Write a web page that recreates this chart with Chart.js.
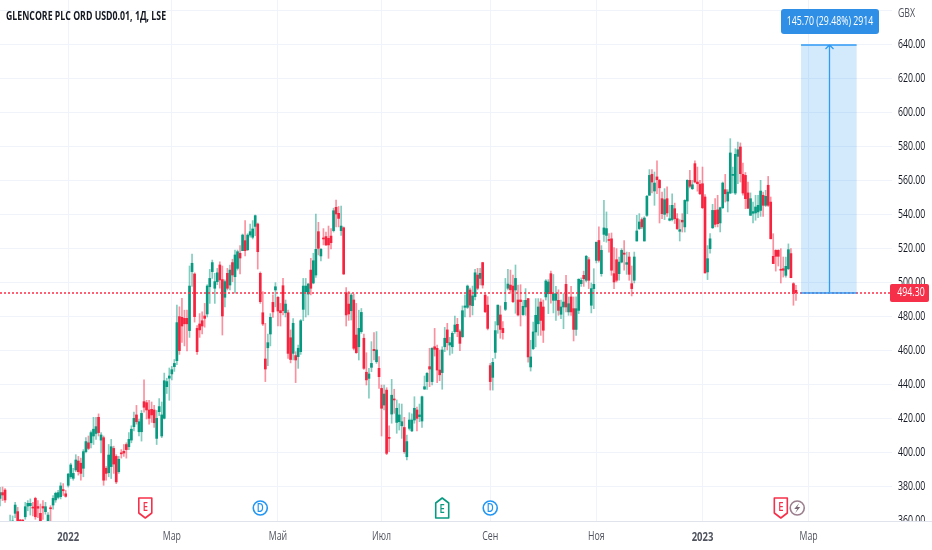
<!DOCTYPE html>
<html>
<head>
<meta charset="utf-8">
<style>
  html, body { margin: 0; padding: 0; background: #fff; }
  canvas { display: block; }
</style>
<script src="https://cdn.jsdelivr.net/npm/chart.js@4/dist/chart.umd.min.js"></script>
</head>
<body>
<canvas id="chart" width="932" height="550"></canvas>
<script>
// Daily candles, GBX
const opens = [
  373.3,376.7,378.2,358,357,358,364.5,365.5,360,360.5,
  362.5,368.8,369,368,373.3,368.5,364.5,368.5,365.5,359.6,
  367.8,369.4,372.4,373.9,374.3,378.5,376,381,386,385.1,
  390,395.3,394,391,400.8,406,406,410,411.5,421,
  407.6,409,391,388.4,392,402.7,398,389,400,401,
  405,403.7,407.6,415.5,422.4,412.5,412.5,430.2,429.6,425.3,
  425.7,425.3,408.6,424.3,410,420.4,439,444,446.5,450.8,
  454.3,480.2,479.8,479.2,479.2,472,506.7,505.3,473.3,475.9,
  477.8,480.6,481.8,497.8,506.7,496.9,500.8,510.6,502,491.6,
  505.7,498.8,512,503.7,508.6,517.5,519,524.9,519.6,528.2,
  526.9,533.3,534.7,505.7,482.5,455.3,461.9,470,488.6,495.9,
  491.6,483.7,498.4,482.5,482.5,467.8,458.6,457.3,456.7,459.6,
  484.5,494.9,493.5,507.6,500,504.7,530.2,515.9,526.3,527.3,
  526.3,527.6,530.8,544.5,541,530.8,532.5,494.3,487.6,483.7,
  490,469.4,462.5,471.4,467.5,447.5,443.9,450.4,461,453.7,
  449.8,438,428.2,437,409.2,422.9,431.6,418,418.4,416,
  415,397.8,414.5,413,419.4,425.3,421.4,418.8,437.6,442,
  450.8,442,462.5,461.6,448.8,447.3,462.5,472.4,463.5,462.5,
  471.4,475.7,471.4,468.4,485.7,485.7,495.9,486.7,492,504.7,
  502.7,512,492.9,487,451.4,444.5,459.2,475.3,481.2,473.3,
  484.5,496.9,498.8,498.2,495.9,490,490,481.4,485.9,490.8,
  450.6,461.4,471.2,476,488.8,485.9,491.8,493.7,505.5,489.8,
  489.8,489.8,481.6,485.9,499.2,483,491.8,484.9,472.7,483.9,
  499.6,504.5,501.6,513.7,486.9,496.7,513.3,525,505.5,528.6,
  528,525.5,526,505.5,513.7,505.5,512.3,517.6,511,515.3,
  499.6,501.6,524.7,532,537.3,524.7,539.8,551.6,563.9,554.1,
  562.4,560.4,549.6,540.4,549.6,536.9,537.3,543.7,537.8,530.4,
  536.9,533,548.2,560.4,555.5,570.2,559.4,558,558.4,550.6,
  506.5,520.2,532.5,542.7,543,535.3,544.3,554.9,548.2,552.9,
  563.3,552.9,574.5,580,563.9,563.3,553,539.8,541,541.2,
  541.8,542.7,551.6,545.7,557.5,547.6,515.7,519.2,519.2,508,
  508.4,504.5,508.4,517.3,499.6,495.7
];
const highs = [
  379.8,380,379,359,363.5,363,371,368,361,361,
  371,372,373,371,374,372,370,372,371,365,
  369,375,377,378,382.5,382,378,388,394,391,
  399,398,397,402,409,410,413,421,421,423,
  412,410,392,405,408,404,399,398,402,405,
  406,412,416,424,428,420,425,443,431,431,
  430,428,425,432,430,447,444,450,451,455,
  487,486,491,484,484,510,517,506,475,482,
  483,488,499,508,513.5,505.7,508.6,512.5,510,501.8,
  508.6,510.6,514,519.4,519.4,522,528.8,536.7,529,534.7,
  536.7,540,535.3,506.5,494.9,476.3,470,482,493,500.2,
  492,488,502.7,490,484,472.4,479,459.6,463.5,478.5,
  502.7,502.7,499.8,514.5,517.5,540.6,535.7,520.4,532,530,
  533.5,532,544,548.8,545,545.3,533,497.3,495,494,
  493.5,488,484,485,470,459,449.8,465.5,470.8,471.4,
  456.7,440,440,438.4,416,443.3,437.5,431.2,429,428.8,
  421,410.6,423.7,423,433.1,427,428.8,433.5,445.3,447.3,
  461.6,462,473.3,463.5,460.6,462.5,473.9,476.3,468,471.4,
  480.6,479.2,472.4,486.5,493,498.8,497,498.2,508,508.6,
  508.6,512.2,493.5,492,452.7,455.7,477.3,487,486.5,477.3,
  502.7,508,507.6,504.7,510.6,498.8,499,489.8,496.7,491,
  466.3,477,490.8,490.8,490.8,490,502,502,507,505,
  498,496,490,493.7,504.5,491.8,498,491.8,491.8,502.5,
  503,507,516.3,515,500,508.4,524,533,522,548.6,
  541.8,529,529.4,520.8,520.2,515.3,520.2,525,518.2,518,
  510,518.2,539.8,540.8,538.4,539,551.6,566.7,566.7,565.3,
  571.8,561,553.5,555.5,556.5,545.7,552.5,547,540.8,537.3,
  540.8,549,560.8,566.3,560.4,571.8,568.2,560.4,568.2,552,
  522,529,546.3,549.6,551.6,544.7,559.4,563.9,554.9,584.9,
  568.2,579,582.9,582.4,570.6,565,559.4,553,547.6,551.6,
  551.6,560.4,553.5,554.5,562.7,550.6,529,519.6,519.6,520.2,
  515.3,515.3,523,520.2,500.2,498.6
];
const lows = [
  368.8,372,371,352,356,356,362,358,357,357,
  361,366,363.5,363,361,362,358,361,364,358,
  360,367,371,373,373,375,374,380,385,384,
  389,387,384,386,400,402,403,405,408,410,
  400,381,384,386,385,388,382,388,397,398,
  397,402,406,413,417,410,407,424,420,417,
  418,415,405,422,409,420,435,431,443,448,
  452,458,465,463,460,468,498,477,458,468,
  470,474,480,488,502.7,488,499,496.9,469.4,485.9,
  495.9,495.9,500.8,494,507.6,505.3,519,516,519,526.9,
  525.9,527.8,508.2,488,475,442,451.4,463,479.8,486,
  474.7,474.7,481.2,480,455.7,453,454.7,441.4,449.8,458,
  477.8,480,481.2,493,499.5,503.3,516.5,513,522.4,522,
  514.5,520,530,533,533,528,505,474.7,478,478.2,
  460.6,458.6,454.7,470.4,449.2,440,432.2,447.8,454.7,452.7,
  438,410,425.3,399,400.8,417.5,423.3,411.6,413.5,408.6,
  399.8,395.9,413.5,412.5,417.5,413,418.4,415,437.4,437.4,
  439,440,457,441.4,442.5,437.5,459.6,460.6,457.6,458.6,
  470.4,468.4,460.2,468,480,485,480,481.2,490,496,
  498.8,497,482.5,472.4,437,437,455.7,470.4,467.5,467,
  483.7,495.9,493.9,488.4,482.2,480.6,474.7,481,481,453.5,
  448.2,460.8,462.4,469.2,469.2,465,490,482,488.2,482.4,
  478,481,479,473.1,483,481,481,465.9,469.2,482,
  498,498,500.6,496.7,482.4,484.9,511.8,512.3,504,524.5,
  524,518.2,504.5,496.7,500.6,501.6,511.8,507.5,505.1,501.6,
  492.4,500,524.7,531.4,532,524.7,539.2,551.6,553,545.7,
  552.5,535.3,537.8,537.3,539.2,536.5,536.5,535,531.4,524.7,
  530,530,540.8,556,554.9,558.8,554,552,543.7,505.9,
  502,517.6,532,533,533,530,543.7,547.6,541.8,552.5,
  553,552,558.4,559.4,551.6,543.7,543.7,539.8,535.3,536.9,
  538.4,539.2,539.2,545,545,526,511.4,507,510,500,
  503.5,503.5,507.8,503.1,486.9,489.8
];
const closes = [
  376.7,375.3,372.4,355,359,360,369.4,360,359.5,359.7,
  368.4,370.4,370.4,367.6,362.5,367.5,359.6,367.6,368.4,363.5,
  367.2,373.3,376.3,376.7,380.6,377.8,374.5,387.6,393,388,
  395.9,389,388,400.8,406.7,402.7,412,414,415.5,412,
  410.6,384,388,398.8,403.7,393.5,383,396.3,399.5,400,
  402,408,414,420.4,418.4,418.4,423.3,426.9,425.3,420.4,
  422.4,417.8,420.4,427.3,422.4,442.5,442,445.3,449,452.7,
  476.7,460.2,474.7,476,476,498.2,511.6,480.2,459.6,472.4,
  474.7,479.2,498.2,502.7,512,500.8,506,501.8,480.6,500.8,
  496.9,507.6,504.7,516.5,518.4,514.7,528.2,519,528.2,530.2,
  531.8,539.6,518.4,489,475.9,449.4,464.9,479.8,483,497.8,
  483.5,482.5,483.7,487.6,458.6,455,476.3,454.7,461.6,477.8,
  498.2,498.2,499.4,496.9,513.1,519.8,520.4,519.8,525.9,522.4,
  522.4,523.7,542.5,540.6,538,533.5,505.3,481.2,481.8,492.9,
  461.6,459,473.3,482.7,449.8,443,446.5,452.7,460.2,460.6,
  444.9,426.3,434.7,399.8,408.6,434,431.2,426.3,422.4,418.4,
  400.8,406.7,419.4,419.4,426.3,420.4,422.4,433.1,439,446.9,
  449.4,461.6,461,448.8,446,460.6,467.5,464.9,464.9,470.4,
  475.3,471.4,464.5,483.7,486.5,498.2,487,492.4,506,496.9,
  505.7,498.8,483.1,473.3,442,453.3,472,487,472.7,470.8,
  488.6,499.4,496,489,502.7,481.2,489,486.3,489.8,456.5,
  456.5,471.2,481,485.9,478,472.2,501.2,500.6,493.7,493.7,
  493.7,483.9,485.9,488.8,485.9,487.8,483,472.7,484.9,502.2,
  501.6,502.5,515.7,501.6,496.7,499.2,524,513.3,519.2,532.4,
  532,525,507.5,500.6,501.6,512.3,519.2,516.9,512,505.1,
  496.7,515.3,530.6,535.9,533,538.2,551,563.3,559.4,558.8,
  560.8,556,540.8,549,541.2,537.8,545.7,537.8,532,531.4,
  535.9,548.6,560.4,556.9,557.8,559.4,558.4,552.5,544.3,505.9,
  514.3,526,542.7,534.5,534.9,544.3,558.8,552.5,553.5,576.5,
  563.9,575.7,578.4,564.3,552.9,549.6,544,549.6,542,544.7,
  545.7,554.1,545.7,551,545.7,526,511.4,515.7,515.7,507.5,
  507.5,509.8,519.6,503.1,493.7,494.3
];

const slotCount = 354; // includes the empty space right of the last candle
const xTickSlots = [27, 68, 110, 151, 194, 236, 278, 320];
const xTickLabels = ['2022', 'Мар', 'Май', 'Июл', 'Сен', 'Ноя', '2023', 'Мар'];
const yTicks = [360, 380, 400, 420, 440, 460, 480, 500, 520, 540, 560, 580, 600, 620, 640, 660];

const lastPrice = 494.30;
const targetPrice = 640.00;
const toolStartSlot = 317;
const toolEndSlot = 339;
const toolLabel = '145.70 (29.48%) 2914';

const eventSlots = [57.5, 103, 175, 194, 309, 315.5];
const eventKinds = ['E-red', 'D', 'E-green', 'D', 'E-red', 'split'];

const titleText = 'GLENCORE PLC ORD USD0.01, 1Д, LSE';
const unitText = 'GBX';

const UP = '#089981';
const DOWN = '#f7243f';
const UP_WICK = 'rgba(8,153,129,.5)';
const DOWN_WICK = 'rgba(247,36,63,.5)';
const BLUE = '#2196f3';
const FONT = '"Open Sans", sans-serif';
const TEXT_SQUEEZE = 0.73; // the source picture is horizontally squeezed

const canvas = document.getElementById('chart');
const context = canvas.getContext('2d');

// every label on this canvas gets the narrow look of the reference
const plainFillText = context.fillText.bind(context);
context.fillText = (text, x, y) => {
  context.save();
  context.translate(x, y);
  context.scale(TEXT_SQUEEZE, 1);
  plainFillText(text, 0, 0);
  context.restore();
};

const isUp = i => closes[i] >= opens[i];

function roundRect(ctx, x, y, w, h, r) {
  ctx.beginPath();
  ctx.roundRect(x, y, w, h, r);
}

function drawEvent(ctx, x, kind) {
  const top = 498, bottom = 518, mid = 508;
  ctx.save();
  ctx.lineWidth = 1.6;
  ctx.fillStyle = '#fff';
  ctx.textAlign = 'center';
  ctx.textBaseline = 'middle';
  ctx.font = '600 13px ' + FONT;
  if (kind === 'D' || kind === 'split') {
    ctx.strokeStyle = kind === 'D' ? BLUE : '#9b7f8e';
    ctx.beginPath();
    ctx.arc(x, mid, 7, 0, Math.PI * 2);
    ctx.fill();
    ctx.stroke();
    if (kind === 'D') {
      ctx.fillStyle = BLUE;
      ctx.fillText('D', x, mid + 0.5);
    } else {
      ctx.fillStyle = '#7d6a78';
      ctx.beginPath();
      ctx.moveTo(x + 2, mid - 5);
      ctx.lineTo(x - 3, mid + 1);
      ctx.lineTo(x, mid + 1);
      ctx.lineTo(x - 2, mid + 5);
      ctx.lineTo(x + 3, mid - 1);
      ctx.lineTo(x, mid - 1);
      ctx.closePath();
      ctx.fill();
    }
  } else {
    const red = kind === 'E-red';
    const color = red ? '#f7304a' : UP;
    ctx.strokeStyle = color;
    ctx.lineJoin = 'round';
    ctx.beginPath();
    if (red) {
      ctx.moveTo(x - 6.5, top);
      ctx.lineTo(x + 6.5, top);
      ctx.lineTo(x + 6.5, bottom - 5);
      ctx.lineTo(x, bottom);
      ctx.lineTo(x - 6.5, bottom - 5);
    } else {
      ctx.moveTo(x, top);
      ctx.lineTo(x + 6.5, top + 5);
      ctx.lineTo(x + 6.5, bottom);
      ctx.lineTo(x - 6.5, bottom);
      ctx.lineTo(x - 6.5, top + 5);
    }
    ctx.closePath();
    ctx.fill();
    ctx.stroke();
    ctx.fillStyle = color;
    ctx.fillText('E', x, red ? mid - 1 : mid + 1);
  }
  ctx.restore();
}

// Price line, measuring tool, event badges and the header text
const overlay = {
  id: 'overlay',
  afterDatasetsDraw(chart) {
    const { ctx, scales: { y } } = chart;
    // on a whole pixel so the thin line spreads over two rows and stays soft
    const py = Math.round(y.getPixelForValue(lastPrice));
    ctx.save();
    ctx.strokeStyle = '#ff2d46';
    ctx.lineWidth = 1.4;
    ctx.setLineDash([2, 2]);
    ctx.beginPath();
    ctx.moveTo(0, py);
    ctx.lineTo(890, py);
    ctx.stroke();
    ctx.restore();
  },
  afterDraw(chart) {
    const { ctx, scales: { x, y } } = chart;
    const left = x.getPixelForValue(toolStartSlot);
    const right = x.getPixelForValue(toolEndSlot);
    const topY = Math.round(y.getPixelForValue(targetPrice));
    const baseY = Math.round(y.getPixelForValue(lastPrice));
    const midX = Math.round((left + right) / 2) + 0.5;

    ctx.save();
    // hide the lower half of the last tick label under the time axis
    ctx.fillStyle = '#fff';
    ctx.fillRect(892, 521, 40, 29);
    ctx.fillStyle = '#e0e3eb';
    ctx.fillRect(0, 521, 932, 1);

    ctx.fillStyle = 'rgba(33,150,243,.2)';
    ctx.fillRect(left, topY, right - left, baseY - topY);
    ctx.strokeStyle = '#2f9bf5';
    ctx.lineWidth = 1.3;
    ctx.beginPath();
    ctx.moveTo(left, topY); ctx.lineTo(right, topY);
    ctx.moveTo(left, baseY); ctx.lineTo(right, baseY);
    ctx.moveTo(midX, baseY); ctx.lineTo(midX, topY);
    ctx.moveTo(midX - 4, topY + 4); ctx.lineTo(midX, topY); ctx.lineTo(midX + 4, topY + 4);
    ctx.stroke();

    // tool label
    ctx.fillStyle = '#2f8fe6';
    roundRect(ctx, 781, 9, 98, 25, 3);
    ctx.fill();
    ctx.fillStyle = '#fff';
    ctx.font = '12px ' + FONT;
    ctx.textAlign = 'center';
    ctx.textBaseline = 'middle';
    ctx.fillText(toolLabel, 830, 21.5);

    // last price tag
    ctx.fillStyle = '#f7304a';
    roundRect(ctx, 890, 284, 39, 18, 2);
    ctx.fill();
    ctx.fillStyle = '#fff';
    ctx.font = '12px ' + FONT;
    ctx.fillText(lastPrice.toFixed(2), 911, 293);

    // header
    ctx.textAlign = 'left';
    ctx.fillStyle = '#131722';
    ctx.font = 'bold 12px ' + FONT;
    ctx.fillText(titleText, 6, 17);
    ctx.font = '12px ' + FONT;
    ctx.fillStyle = '#50535e';
    ctx.fillText(unitText, 898, 14);
    ctx.restore();

    eventSlots.forEach((s, i) => drawEvent(ctx, x.getPixelForValue(s), eventKinds[i]));
  }
};

new Chart(context, {
  type: 'bar',
  data: {
    labels: Array.from({ length: slotCount }, (_, i) => String(i)),
    datasets: [
      {
        label: 'wick',
        data: highs.map((h, i) => [lows[i], h]),
        backgroundColor: highs.map((_, i) => (isUp(i) ? UP_WICK : DOWN_WICK)),
        barThickness: 1,
        grouped: false,
        order: 2
      },
      {
        label: 'body',
        data: opens.map((o, i) => [o, closes[i]]),
        backgroundColor: opens.map((_, i) => (isUp(i) ? UP : DOWN)),
        barThickness: 2,
        minBarLength: 1,
        grouped: false,
        order: 1
      }
    ]
  },
  options: {
    responsive: false,
    animation: false,
    devicePixelRatio: 1,
    layout: { padding: 0 },
    events: [],
    plugins: { legend: { display: false }, tooltip: { enabled: false } },
    scales: {
      x: {
        type: 'category',
        offset: false,
        afterBuildTicks: scale => { scale.ticks = xTickSlots.map(v => ({ value: v })); },
        afterFit: scale => { scale.height = 29; scale.paddingLeft = 0; scale.paddingRight = 0; },
        grid: { offset: false, color: '#f0f3fa', drawTicks: false, tickLength: 0 },
        border: { color: '#e0e3eb' },
        ticks: {
          autoSkip: false,
          maxRotation: 0,
          padding: 8,
          color: '#50535e',
          font: ctx => (/^\d+$/.test(ctx.tick.label) ? { family: FONT, size: 13, weight: 'bold' } : { family: FONT, size: 12 }),
          callback: v => xTickLabels[xTickSlots.indexOf(v)]
        }
      },
      y: {
        position: 'right',
        min: 360,
        max: 666.47,
        afterBuildTicks: scale => { scale.ticks = yTicks.map(v => ({ value: v })); },
        afterFit: scale => { scale.width = 40; scale.paddingTop = 0; scale.paddingBottom = 0; },
        grid: { color: '#f0f3fa', drawTicks: false, tickLength: 0 },
        border: { display: false },
        ticks: {
          padding: 6,
          color: '#131722',
          font: { family: FONT, size: 12 },
          callback: v => (v <= 640 ? v.toFixed(2) : '')
        }
      }
    }
  },
  plugins: [overlay]
});
</script>
</body>
</html>
